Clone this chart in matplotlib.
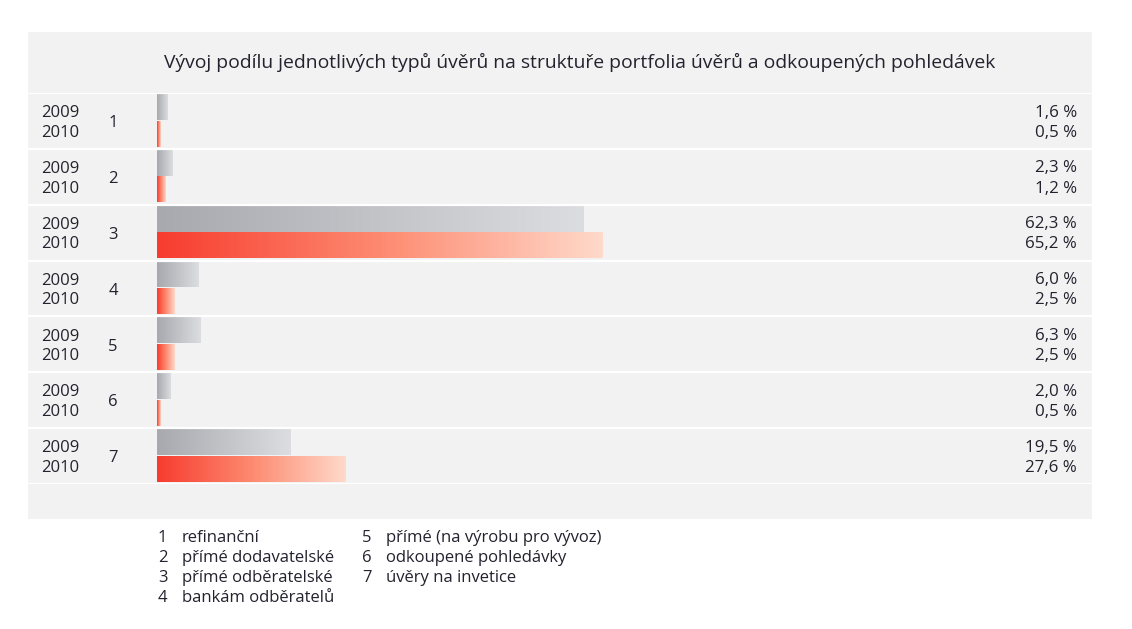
import numpy as np
import matplotlib.pyplot as plt
from matplotlib.colors import LinearSegmentedColormap
from matplotlib.patches import Rectangle

# ------------------------------
# Data
# ------------------------------
categories = ['1', '2', '3', '4', '5', '6', '7']
share_2009 = [1.6, 2.3, 62.3, 6.0, 6.3, 2.0, 19.5]
share_2010 = [0.5, 1.2, 65.2, 2.5, 2.5, 0.5, 27.6]
years = ['2009', '2010']
legend_items = ['refinanční', 'přímé dodavatelské', 'přímé odběratelské',
                'bankám odběratelů', 'přímé (na výrobu pro vývoz)',
                'odkoupené pohledávky', 'úvěry na invetice']
title = 'Vývoj podílu jednotlivých typů úvěrů na struktuře portfolia úvěrů a odkoupených pohledávek'

# ------------------------------
# Figure setup (pixel helpers)
# ------------------------------
W, H = 1132, 629
fig = plt.figure(figsize=(W / 100, H / 100), dpi=100)
plt.rcParams['font.family'] = ['Open Sans', 'DejaVu Sans']
TXT = '#23222e'

def fx(px):
    return px / W

def fy(py):
    return 1 - py / H

# grey panel behind the chart
fig.patches.append(Rectangle((fx(28), fy(519)), fx(1092) - fx(28), fy(32) - fy(519),
                             transform=fig.transFigure, facecolor='#f2f2f2',
                             edgecolor='none', zorder=-1))

fig.text(fx(580), fy(62), title, ha='center', va='center', fontsize=13.9, color=TXT)

# axes covering the row area of the panel
ax_l, ax_r, ax_t, ax_b = 28, 1092, 93, 484
ax = fig.add_axes([fx(ax_l), fy(ax_b), fx(ax_r) - fx(ax_l), fy(ax_t) - fy(ax_b)])
ax.set_zorder(2)
ax.set_axis_off()

px_per_pct = 6.84
x0 = 157
xmin = (ax_l - x0) / px_per_pct
xmax = (ax_r - x0) / px_per_pct

grey_cmap = LinearSegmentedColormap.from_list('grey', ['#a8a9ae', '#dcdde0'])
red_cmap = LinearSegmentedColormap.from_list('red', ['#f73c2f', '#fd8a70', '#ffd9ca'])
grad = np.linspace(0, 1, 256).reshape(1, -1)

n = len(categories)
for i in range(n):
    ax.imshow(grad, cmap=grey_cmap, aspect='auto', interpolation='bilinear',
              extent=(0, share_2009[i], i + 0.48, i + 0.02), zorder=2)
    ax.imshow(grad, cmap=red_cmap, aspect='auto', interpolation='bilinear',
              extent=(0, share_2010[i], i + 0.96, i + 0.51), zorder=2)

    ax.text((60 - x0) / px_per_pct, i + 0.36, years[0], ha='center', va='center',
            fontsize=12, color=TXT)
    ax.text((60 - x0) / px_per_pct, i + 0.71, years[1], ha='center', va='center',
            fontsize=12, color=TXT)
    ax.text((113 - x0) / px_per_pct, i + 0.54, categories[i], ha='center', va='center',
            fontsize=12, color=TXT)

    ax.text((1077 - x0) / px_per_pct, i + 0.35, f'{share_2009[i]:.1f} %'.replace('.', ','),
            ha='right', va='center', fontsize=12.2, color=TXT)
    ax.text((1077 - x0) / px_per_pct, i + 0.71, f'{share_2010[i]:.1f} %'.replace('.', ','),
            ha='right', va='center', fontsize=12.2, color=TXT)

for b in range(n + 1):
    ax.axhline(b, color='white', linewidth=1.6, zorder=3)

ax.set_xlim(xmin, xmax)
ax.set_ylim(n, 0)

# ------------------------------
# Legend below the panel
# ------------------------------
for k, label in enumerate(legend_items):
    col, row = divmod(k, 4)
    num_x = 158 if col == 0 else 362
    txt_x = 182 if col == 0 else 386
    y = 538 + row * 20
    fig.text(fx(num_x), fy(y), str(k + 1), ha='left', va='center', fontsize=12, color=TXT)
    fig.text(fx(txt_x), fy(y), label, ha='left', va='center', fontsize=12, color=TXT)

fig.savefig('out.png', dpi=100, facecolor='white')
